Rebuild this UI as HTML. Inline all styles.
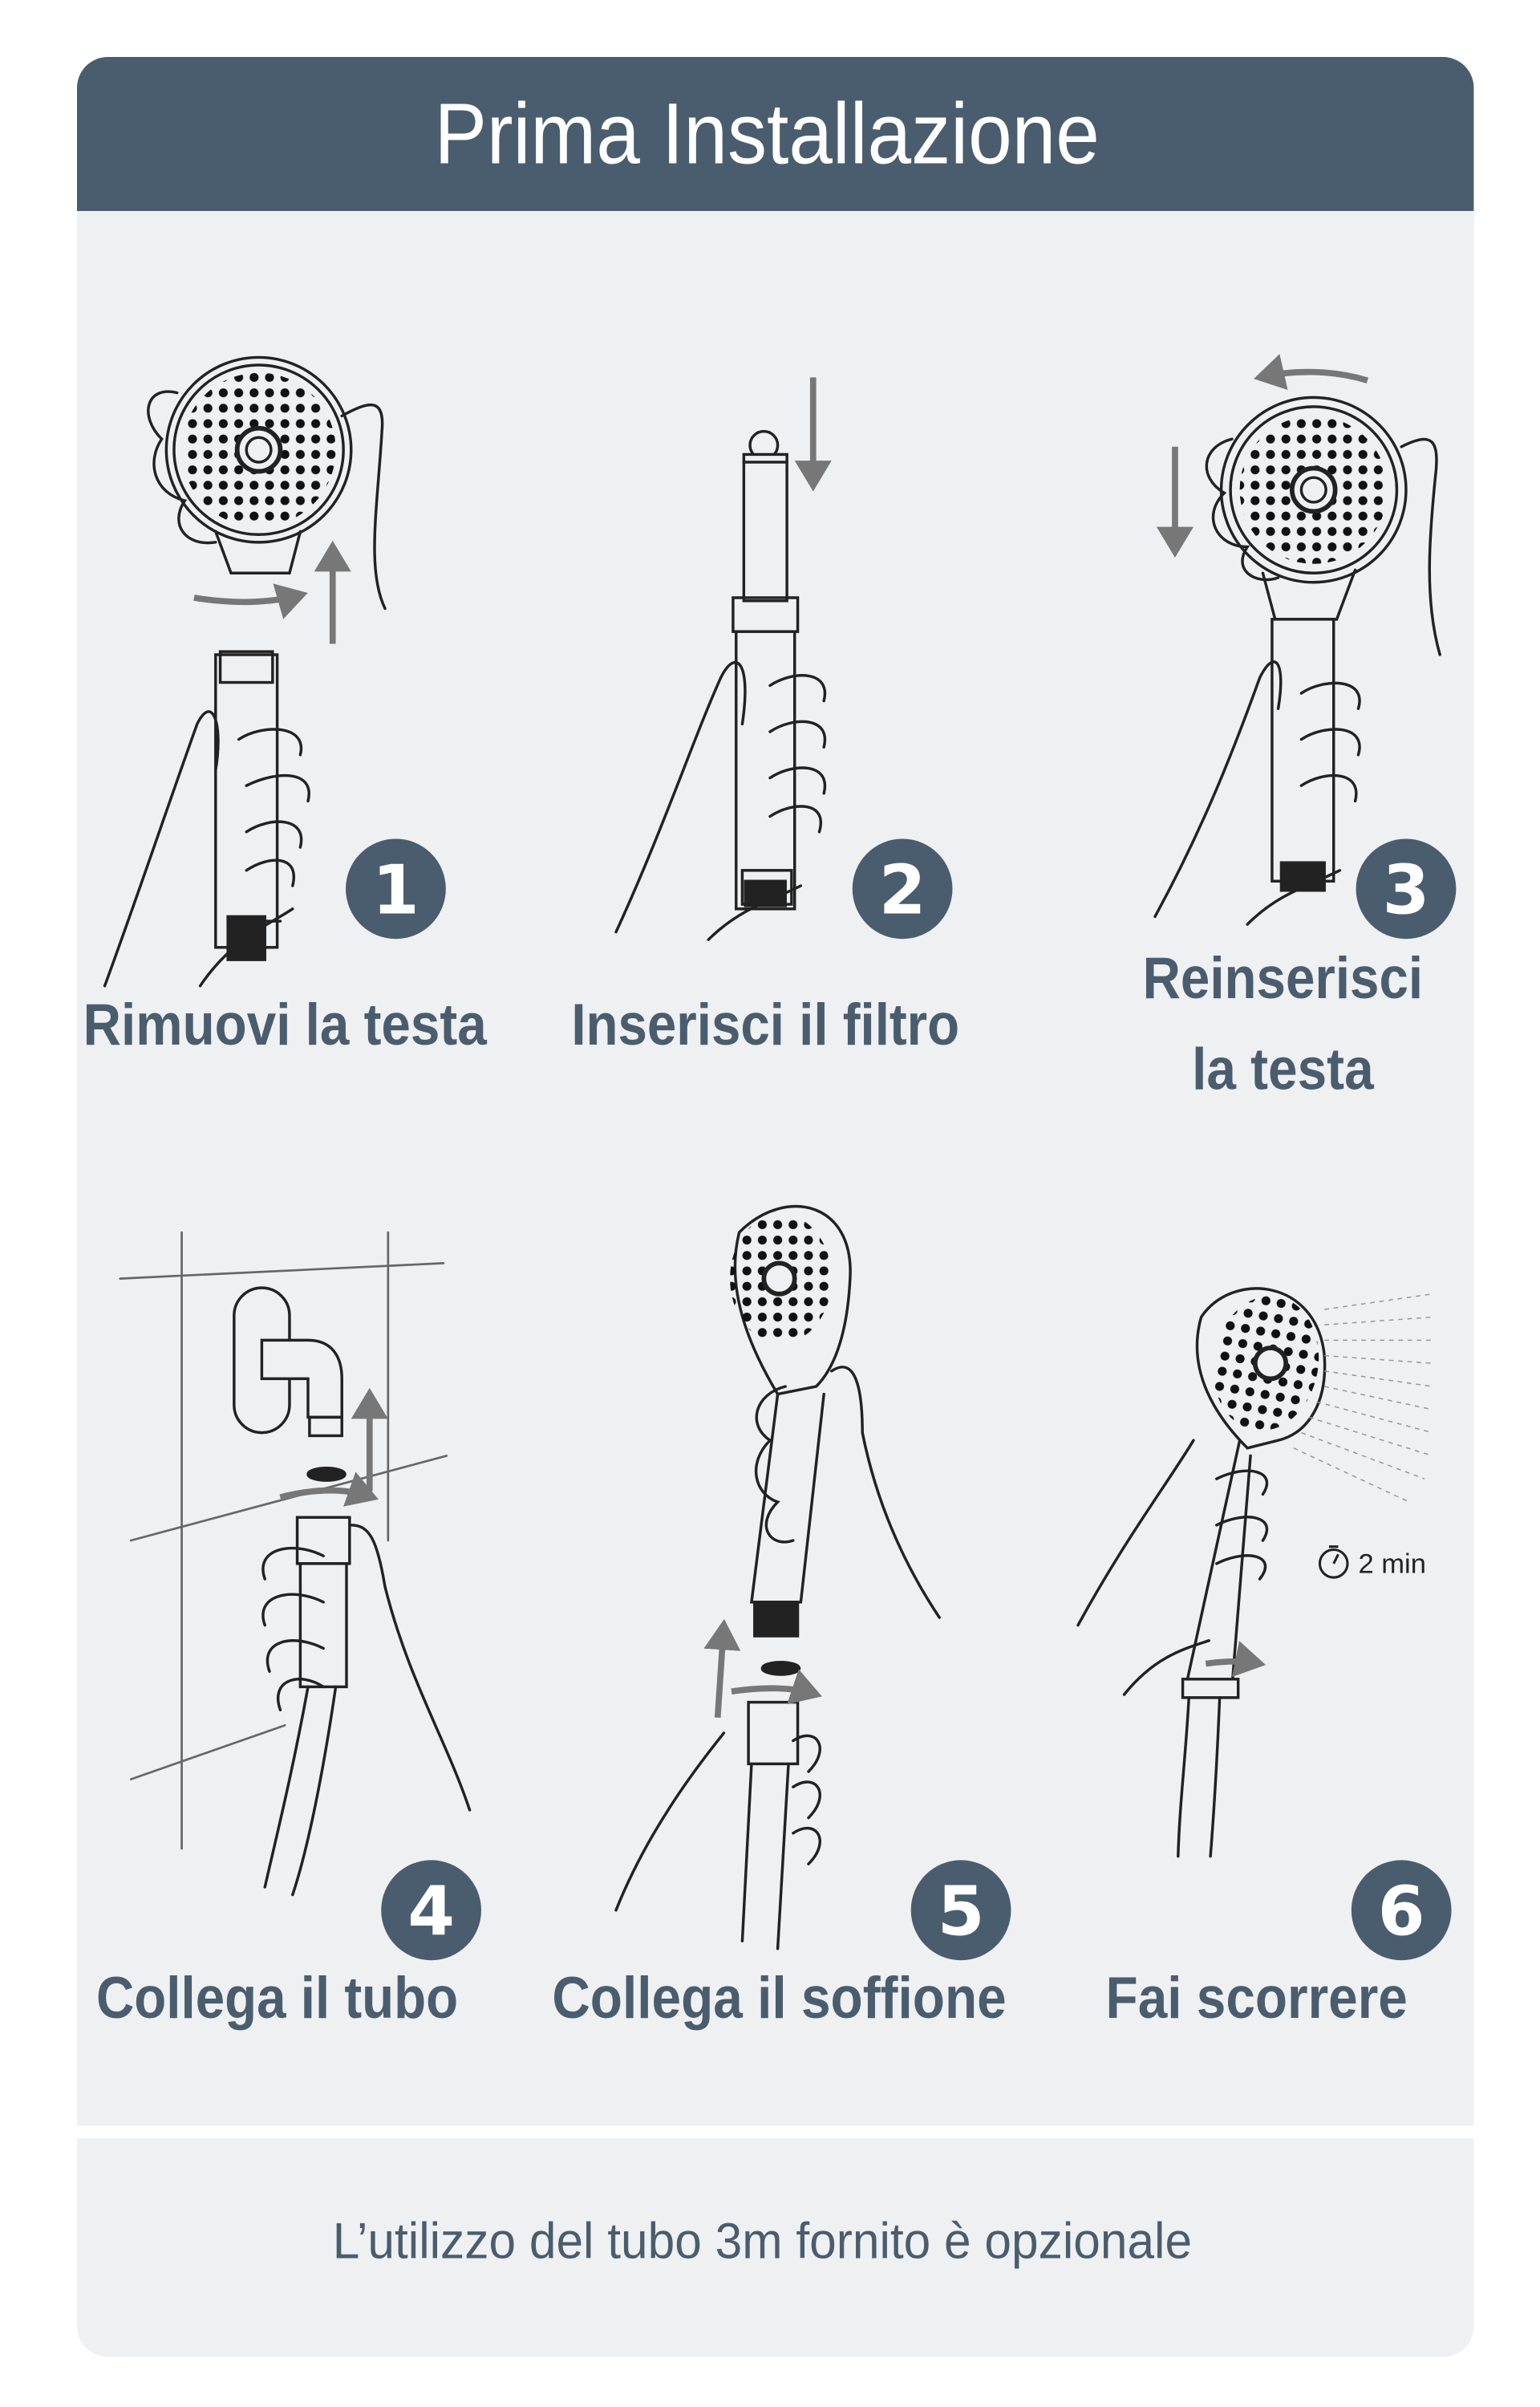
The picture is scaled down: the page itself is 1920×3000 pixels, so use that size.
<!DOCTYPE html>
<html><head><meta charset="utf-8"><style>
html,body{margin:0;padding:0;background:#fff;width:1920px;height:3000px;overflow:hidden}
svg{display:block}
</style></head><body>
<svg width="1920" height="3000" viewBox="0 0 1000 1562.5" xmlns="http://www.w3.org/2000/svg">
<defs>
<pattern id="dots" width="10" height="10" patternUnits="userSpaceOnUse"><circle cx="5" cy="5" r="2.9" fill="#111"/></pattern>
<marker id="ah" markerWidth="6" markerHeight="6" refX="4" refY="3" orient="auto" markerUnits="strokeWidth"><path d="M0,0 L5,3 L0,6 Z" fill="#777"/></marker>
</defs>
<!-- card -->
<path d="M50,1380 V57 a20,20 0 0 1 20,-20 H937 a20,20 0 0 1 20,20 V1380 Z" fill="#eff0f2"/>
<path d="M50,137 V57 a20,20 0 0 1 20,-20 H937 a20,20 0 0 1 20,20 V137 Z" fill="#4a5d6e"/>
<path d="M50,1388 H957 V1510 a20,20 0 0 1 -20,20 H70 a20,20 0 0 1 -20,-20 Z" fill="#eff0f2"/>
<text x="498" y="106" text-anchor="middle" font-family="Liberation Sans, sans-serif" font-size="56" fill="#fff" textLength="432" lengthAdjust="spacingAndGlyphs">Prima Installazione</text>
<text x="495" y="1466" text-anchor="middle" font-family="Liberation Sans, sans-serif" font-size="33" fill="#4a5d6e" textLength="558" lengthAdjust="spacingAndGlyphs">L’utilizzo del tubo 3m fornito è opzionale</text>

<g font-family="Liberation Sans, sans-serif" font-weight="bold" font-size="38" fill="#4a5d6e" text-anchor="middle">
<text x="185" y="678" textLength="262" lengthAdjust="spacingAndGlyphs">Rimuovi la testa</text>
<text x="497" y="678" textLength="252" lengthAdjust="spacingAndGlyphs">Inserisci il filtro</text>
<text x="833" y="648" textLength="182" lengthAdjust="spacingAndGlyphs">Reinserisci</text>
<text x="833" y="707" textLength="118" lengthAdjust="spacingAndGlyphs">la testa</text>
<text x="180" y="1310" textLength="235" lengthAdjust="spacingAndGlyphs">Collega il tubo</text>
<text x="506" y="1310" textLength="295" lengthAdjust="spacingAndGlyphs">Collega il soffione</text>
<text x="816" y="1310" textLength="196" lengthAdjust="spacingAndGlyphs">Fai scorrere</text>
</g>
<g fill="#4a5d6e">
<circle cx="257" cy="577" r="32.5"/><circle cx="586" cy="577" r="32.5"/><circle cx="913" cy="577" r="32.5"/>
<circle cx="280" cy="1240" r="32.5"/><circle cx="624" cy="1240" r="32.5"/><circle cx="910" cy="1240" r="32.5"/>
</g>
<g font-family="DejaVu Sans, sans-serif" font-weight="bold" font-size="44" fill="#fff" text-anchor="middle">
<text x="257" y="593">1</text><text x="586" y="593">2</text><text x="913" y="593">3</text>
<text x="280" y="1256">4</text><text x="624" y="1256">5</text><text x="910" y="1256">6</text>
</g>

<g fill="none" stroke="#222" stroke-width="1.8" stroke-linecap="round">
<!-- Step 1 -->
<circle cx="168" cy="292" r="60" fill="#eff0f2"/><circle cx="168" cy="292" r="55"/>
<circle cx="168" cy="292" r="50" fill="url(#dots)" stroke="none"/>
<circle cx="168" cy="292" r="14" fill="#eff0f2" stroke-width="3"/><circle cx="168" cy="292" r="8" fill="#eff0f2"/>
<path d="M140,345 L150,372 H188 L195,345"/>
<path d="M115,255 C95,250 90,270 105,285 C95,300 100,320 120,325 C110,340 120,355 140,352"/>
<path d="M222,270 C240,260 250,258 248,280 C245,330 238,370 250,395"/>
<rect x="140" y="425" width="40" height="190" fill="#eff0f2"/>
<rect x="143" y="423" width="34" height="20"/>
<rect x="148" y="595" width="24" height="28" fill="#222"/>
<path d="M148,598 H182"/>
<path d="M68,640 C90,580 110,520 128,470 C138,450 145,470 140,500"/>
<path d="M130,640 C150,610 175,600 190,590"/>
<path d="M155,480 C170,470 200,470 195,490 M160,510 C180,500 205,500 200,520 M160,540 C175,530 200,530 195,550 M160,565 C175,555 195,555 190,575"/>
<!-- Step 2 -->
<circle cx="496" cy="289" r="9"/>
<rect x="483" y="295" width="28" height="95" fill="#eff0f2"/>
<path d="M483,300 H511"/>
<rect x="476" y="388" width="42" height="22"/>
<rect x="478" y="410" width="38" height="180" fill="#eff0f2"/>
<rect x="482" y="565" width="32" height="22" fill="#eff0f2"/>
<rect x="484" y="572" width="26" height="16" fill="#222"/>
<path d="M400,605 C430,540 450,480 468,440 C478,420 488,430 482,470"/>
<path d="M460,610 C480,590 500,585 520,575"/>
<path d="M500,445 C515,435 540,435 535,455 M500,475 C515,465 540,465 535,485 M500,505 C515,495 540,495 535,515 M500,530 C515,520 538,520 532,540"/>
<!-- Step 3 -->
<circle cx="853" cy="318" r="60" fill="#eff0f2"/><circle cx="853" cy="318" r="54"/>
<circle cx="853" cy="318" r="48" fill="url(#dots)" stroke="none"/>
<circle cx="853" cy="318" r="14" fill="#eff0f2" stroke-width="3"/><circle cx="853" cy="318" r="8" fill="#eff0f2"/>
<path d="M820,372 L828,402 H868 L880,370"/>
<path d="M800,285 C780,290 778,310 795,320 C780,335 790,355 810,355 C800,370 815,380 830,375"/>
<path d="M910,290 C930,280 935,285 932,310 C928,350 925,390 935,425"/>
<rect x="826" y="402" width="40" height="170" fill="#eff0f2"/>
<rect x="832" y="560" width="28" height="18" fill="#222"/>
<path d="M750,595 C780,540 800,490 818,440 C828,420 835,430 830,460"/>
<path d="M810,600 C830,580 850,575 870,565"/>
<path d="M845,450 C860,440 888,440 882,460 M845,480 C860,470 888,470 882,490 M845,510 C860,500 885,500 880,520"/>
<!-- Step 4 -->
<g stroke="#666" stroke-width="1.4">
<path d="M78,830 L288,820 M85,1000 L290,945 M85,1155 L185,1120 M118,800 V1200 M252,800 V1000"/>
</g>
<rect x="152" y="836" width="36" height="94" rx="18"/>
<path d="M170,870 H200 C215,870 222,880 222,895 V920 H200 V895 H170 Z" fill="#eff0f2"/>
<rect x="201" y="920" width="21" height="12"/>
<ellipse cx="212" cy="957" rx="12" ry="4" fill="#222"/>
<rect x="193" y="985" width="34" height="30" fill="#eff0f2"/>
<rect x="195" y="1015" width="30" height="80" fill="#eff0f2"/>
<path d="M200,1095 C190,1150 180,1190 172,1225 M218,1095 C210,1150 200,1200 190,1230"/>
<path d="M228,990 C240,990 245,1000 250,1030 C265,1090 290,1130 305,1175"/>
<path d="M210,1010 C190,1000 165,1005 172,1025 M210,1040 C190,1030 165,1035 172,1055 M210,1070 C190,1060 168,1065 175,1085 M210,1095 C195,1085 175,1090 182,1110"/>
<!-- Step 5 -->
<path d="M480,800 C510,770 555,780 552,830 C550,870 540,890 530,900 L505,905 C490,880 470,840 480,800 Z" fill="#eff0f2"/>
<ellipse cx="507" cy="830" rx="33" ry="42" fill="url(#dots)" stroke="none"/>
<circle cx="506" cy="830" r="10" fill="#eff0f2" stroke-width="3"/>
<path d="M505,905 L488,1040 H520 L535,905"/>
<rect x="490" y="1040" width="28" height="22" fill="#222"/>
<ellipse cx="507" cy="1083" rx="12" ry="4" fill="#222"/>
<rect x="486" y="1105" width="32" height="40" fill="#eff0f2"/>
<path d="M488,1145 L482,1260 M512,1145 L505,1265"/>
<path d="M510,900 C490,905 485,925 500,935 C485,950 490,970 505,975 C490,990 500,1005 515,1000"/>
<path d="M540,890 C555,880 560,900 560,930 C570,980 590,1020 610,1050"/>
<path d="M400,1240 C420,1190 450,1150 470,1125"/>
<path d="M515,1130 C530,1120 540,1135 525,1150 M515,1160 C530,1150 540,1165 525,1180 M515,1190 C530,1180 540,1195 525,1210"/>
<!-- Step 6 -->
<path d="M780,855 C800,825 855,830 860,880 C862,910 850,930 830,935 L810,940 C790,920 770,890 780,855 Z" fill="#eff0f2"/>
<ellipse cx="822" cy="885" rx="34" ry="44" fill="url(#dots)" stroke="none" transform="rotate(10 822 885)"/>
<circle cx="825" cy="885" r="10" fill="#eff0f2" stroke-width="3"/>
<path d="M805,935 L770,1095 H800 L812,945"/>
<rect x="768" y="1090" width="36" height="12" fill="#eff0f2"/>
<path d="M772,1102 C770,1140 766,1170 765,1205 M792,1102 C790,1150 788,1180 786,1205"/>
<path d="M700,1055 C730,1000 760,960 775,935"/>
<path d="M790,960 C810,950 830,955 820,970 M790,990 C810,980 830,985 820,1000 M790,1015 C810,1005 830,1010 818,1025"/>
<path d="M730,1100 C750,1075 770,1070 785,1065"/>
</g>
<!-- spray -->
<g stroke="#999" stroke-width="0.8" stroke-dasharray="3,3">
<path d="M860,850 L930,840 M860,860 L930,855 M860,870 L930,870 M860,880 L930,885 M860,890 L930,900 M860,900 L930,915 M855,910 L930,930 M850,920 L930,945 M845,930 L925,960 M840,940 L915,975"/>
</g>
<circle cx="866" cy="1015" r="9" fill="none" stroke="#222" stroke-width="1.6"/>
<path d="M866,1015 L869,1009 M863,1004 H869" stroke="#222" stroke-width="1.6"/>
<text x="882" y="1021" font-family="Liberation Sans, sans-serif" font-size="18" fill="#222">2 min</text>
<!-- arrows -->
<g fill="none" stroke="#777" stroke-width="4" marker-end="url(#ah)">
<path d="M126,388 C150,392 175,392 196,386"/>
<path d="M216,418 V355"/>
<path d="M528,245 V315"/>
<path d="M888,247 C865,240 840,240 818,245"/>
<path d="M763,290 V358"/>
<path d="M240,968 V905"/>
<path d="M182,972 C205,966 225,966 242,972"/>
<path d="M466,1115 L470,1055"/>
<path d="M475,1098 C495,1095 515,1095 530,1100"/>
<path d="M783,1080 C797,1078 808,1078 818,1080"/>
</g>
</svg>
</body></html>
